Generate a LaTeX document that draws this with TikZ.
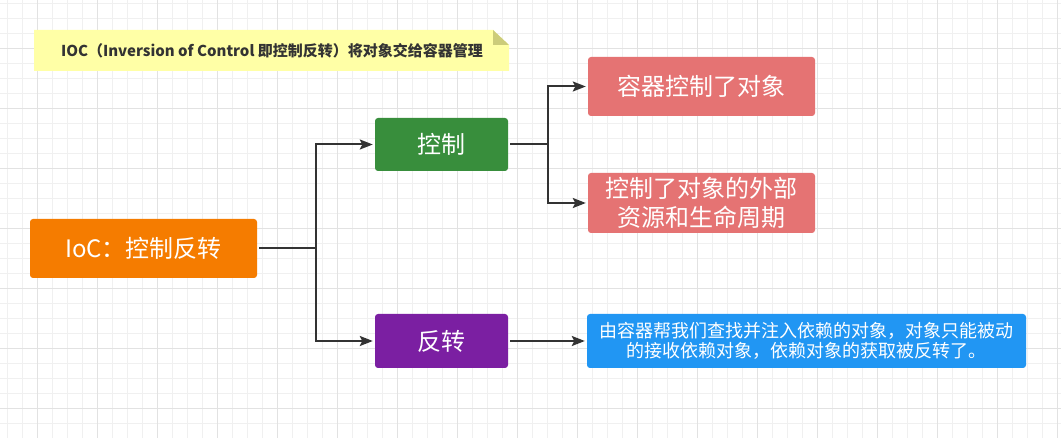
\documentclass[tikz,border=0pt]{standalone}
\usepackage{fontspec}
\setmainfont{Noto Sans CJK SC}
\usetikzlibrary{arrows.meta}
\definecolor{gridminor}{HTML}{F0F0F0}
\definecolor{gridmajor}{HTML}{E2E2E2}
\definecolor{cOrange}{HTML}{F57C00}
\definecolor{cGreen}{HTML}{388E3C}
\definecolor{cPurple}{HTML}{7B1FA2}
\definecolor{cRed}{HTML}{E57373}
\definecolor{cBlue}{HTML}{2196F3}
\definecolor{cNote}{HTML}{FFFFA6}
\definecolor{cFold}{HTML}{CCCC7A}
\definecolor{cLine}{HTML}{333333}
\begin{document}
\begin{tikzpicture}[x=1pt,y=-1pt,
  boxst/.style={rectangle, rounded corners=3pt, inner sep=0pt, text=white, align=center},
  bigtxt/.style={font=\fontsize{24}{29}\selectfont},
  smalltxt/.style={font=\fontsize{18}{20}\selectfont},
  conn/.style={draw=cLine, line width=2pt},
  arr/.style={conn, -{Stealth[length=13pt,width=10pt,inset=2.5pt]}, shorten >=2pt},
  notetxt/.style={font=\fontsize{15}{18}\selectfont\bfseries, text=black!80, inner sep=0pt}
]
\useasboundingbox (0,0) rectangle (1061,438);
\fill[white] (0,0) rectangle (1061,438);
% grid
\foreach \x in {7,22,...,1060} \draw[gridminor, line width=1pt] (\x,0) -- (\x,438);
\foreach \y in {4,19,...,437} \draw[gridminor, line width=1pt] (0,\y) -- (1061,\y);
\foreach \x in {37,97,...,1060} \draw[gridmajor, line width=1pt] (\x,0) -- (\x,438);
\foreach \y in {49,109,...,437} \draw[gridmajor, line width=1pt] (0,\y) -- (1061,\y);

% note
\fill[cNote] (34,30) -- (493,30) -- (509,45) -- (509,71) -- (34,71) -- cycle;
\fill[cFold] (493,30) -- (509,45) -- (493,45) -- cycle;
\node[notetxt] (note) at (272,50.5) {IOC（Inversion of Control 即控制反转）将对象交给容器管理};

% boxes
\node[boxst, bigtxt, fill=cOrange, minimum width=227pt, minimum height=59pt] (ioc) at (143.5,248.5) {IoC：控制反转};
\node[boxst, bigtxt, fill=cGreen, minimum width=133pt, minimum height=53pt] (ctrl) at (441.5,144.5) {控制};
\node[boxst, bigtxt, fill=cPurple, minimum width=133pt, minimum height=54pt] (rev) at (441.5,341) {反转};
\node[boxst, bigtxt, fill=cRed, minimum width=227pt, minimum height=59pt] (r1) at (701.5,86.5) {容器控制了对象};
\node[boxst, bigtxt, fill=cRed, minimum width=227pt, minimum height=60pt] (r2) at (701.5,203) {控制了对象的外部\\资源和生命周期};
\node[boxst, smalltxt, fill=cBlue, minimum width=439pt, minimum height=54pt] (b1) at (806.5,341) {由容器帮我们查找并注入依赖的对象，对象只能被动\\的接收依赖对象，依赖对象的获取被反转了。};

% connectors
\coordinate (j1) at (316,248.5);
\coordinate (j2) at (548,144.5);
\draw[conn, shorten <=2pt] (ioc.east) -- (j1);
\draw[arr] (j1) |- (ctrl.west);
\draw[arr] (j1) |- (rev.west);
\draw[conn, shorten <=2pt] (ctrl.east) -- (j2);
\draw[arr] (j2) |- (r1.west);
\draw[arr] (j2) |- (r2.west);
\draw[arr, shorten <=2pt] (rev.east) -- (b1.west);
\end{tikzpicture}
\end{document}
